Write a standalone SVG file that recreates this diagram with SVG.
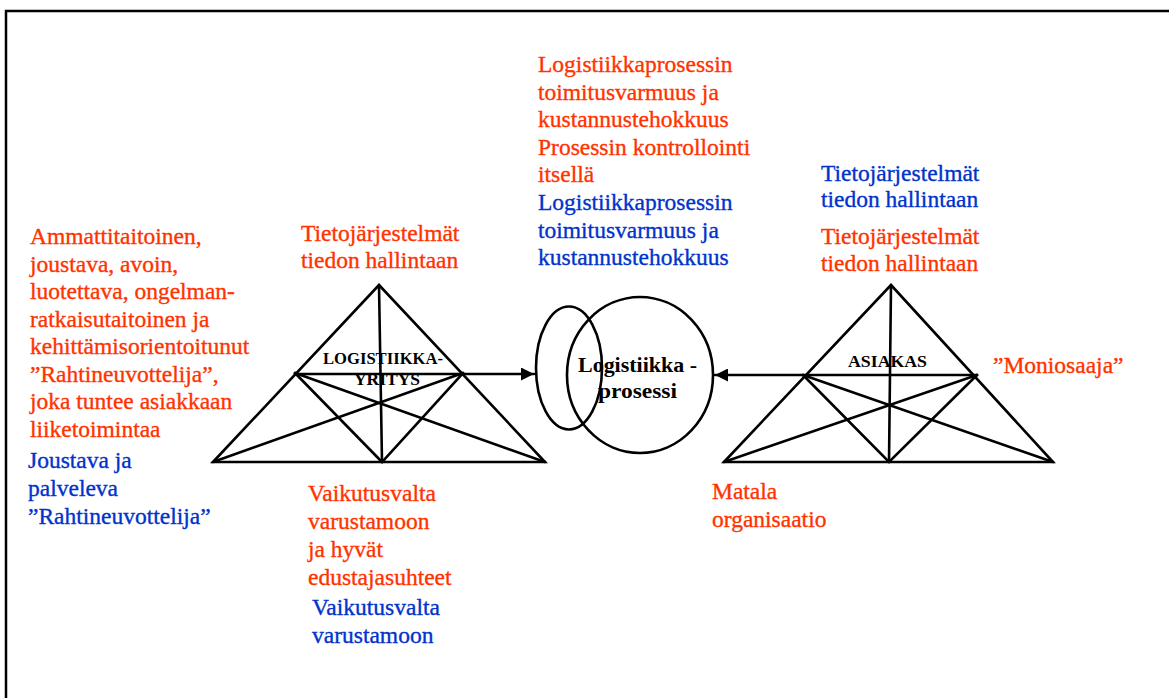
<svg xmlns="http://www.w3.org/2000/svg" width="1169" height="698" viewBox="0 0 1169 698">
  <style>
    text { font-family: "Liberation Serif", "Times New Roman", serif; }
    .t text { font-size: 23.5px; font-weight: normal; stroke-width: 0.35; }
    .red { fill: #FF3300; stroke: #FF3300; }
    .blue { fill: #0033CC; stroke: #0033CC; }
    .lbl { font-weight: bold; fill: #000; }
    .ln { stroke: #000; stroke-width: 2.6; fill: none; stroke-linecap: round; }
    .frame { stroke: #000; stroke-width: 2.5; fill: none; }
  </style>
  <defs>
    <marker id="arrow" viewBox="0 0 10 10" refX="10" refY="5" markerWidth="5" markerHeight="5" orient="auto" markerUnits="strokeWidth">
      <path d="M0,0 L10,5 L0,10 z" fill="#000"/>
    </marker>
  </defs>
  <rect width="1169" height="698" fill="#fff"/>
  <rect class="frame" x="6" y="11" width="1200" height="800"/>

  <!-- company pyramid -->
  <g id="logistiikkayritys">
    <path class="ln" d="M213,462 L379,285 L545,462 Z"/>
    <path class="ln" d="M379,285 L382,462"/>
    <path class="ln" d="M295,373 L382,462 L463,373"/>
    <path class="ln" d="M295,373 L545,462"/>
    <path class="ln" d="M463,373 L213,462"/>
    <text class="lbl" font-size="16.5" x="323" y="364" textLength="120" lengthAdjust="spacingAndGlyphs">LOGISTIIKKA-</text>
    <text class="lbl" font-size="16.5" x="354" y="385" textLength="66" lengthAdjust="spacingAndGlyphs">YRITYS</text>
  </g>

  <!-- customer pyramid -->
  <g id="asiakas">
    <path class="ln" d="M724,462 L891,285 L1053,462 Z"/>
    <path class="ln" d="M891,285 L889,462"/>
    <path class="ln" d="M803,375 L889,462 L977,375"/>
    <path class="ln" d="M803,375 L1053,462"/>
    <path class="ln" d="M977,375 L724,462"/>
    <text class="lbl" font-size="16.5" x="848" y="367" textLength="79" lengthAdjust="spacingAndGlyphs">ASIAKAS</text>
  </g>

  <!-- process circles -->
  <g id="logistiikkaprosessi">
    <ellipse class="ln" cx="569" cy="368" rx="33" ry="61.5"/>
    <ellipse class="ln" cx="640" cy="375" rx="73" ry="78"/>
    <text class="lbl" font-size="22" x="578" y="372" textLength="119" lengthAdjust="spacingAndGlyphs">Logistiikka -</text>
    <text class="lbl" font-size="22" x="598" y="398" textLength="79" lengthAdjust="spacingAndGlyphs">prosessi</text>
  </g>

  <!-- connectors -->
  <g id="connectors">
    <path class="ln" d="M295,374 L534,374" marker-end="url(#arrow)"/>
    <path class="ln" d="M977,375 L715,375" marker-end="url(#arrow)"/>
  </g>

  <!-- annotations -->
  <g id="left-text" class="t">
    <text class="red">
      <tspan x="30" y="244">Ammattitaitoinen,</tspan>
      <tspan x="30" y="271.5">joustava, avoin,</tspan>
      <tspan x="30" y="299">luotettava, ongelman-</tspan>
      <tspan x="30" y="326.5">ratkaisutaitoinen ja</tspan>
      <tspan x="30" y="354">kehittämisorientoitunut</tspan>
      <tspan x="30" y="381.5">”Rahtineuvottelija”,</tspan>
      <tspan x="30" y="409">joka tuntee asiakkaan</tspan>
      <tspan x="30" y="436.5">liiketoimintaa</tspan>
    </text>
    <text class="blue">
      <tspan x="28" y="468">Joustava ja</tspan>
      <tspan x="28" y="496">palveleva</tspan>
      <tspan x="28" y="524">”Rahtineuvottelija”</tspan>
    </text>
  </g>

  <g id="center-text" class="t">
    <text class="red">
      <tspan x="538" y="72">Logistiikkaprosessin</tspan>
      <tspan x="538" y="100">toimitusvarmuus ja</tspan>
      <tspan x="538" y="127">kustannustehokkuus</tspan>
      <tspan x="538" y="155">Prosessin kontrollointi</tspan>
      <tspan x="538" y="182">itsellä</tspan>
    </text>
    <text class="blue">
      <tspan x="538" y="210">Logistiikkaprosessin</tspan>
      <tspan x="538" y="238">toimitusvarmuus ja</tspan>
      <tspan x="538" y="265">kustannustehokkuus</tspan>
    </text>
  </g>

  <g id="left-top-text" class="t">
    <text class="red">
      <tspan x="301" y="241">Tietojärjestelmät</tspan>
      <tspan x="301" y="268">tiedon hallintaan</tspan>
    </text>
  </g>

  <g id="right-top-text" class="t">
    <text class="blue">
      <tspan x="821" y="181">Tietojärjestelmät</tspan>
      <tspan x="821" y="207">tiedon hallintaan</tspan>
    </text>
    <text class="red">
      <tspan x="821" y="244">Tietojärjestelmät</tspan>
      <tspan x="821" y="271">tiedon hallintaan</tspan>
    </text>
    <text class="red" x="993" y="373">”Moniosaaja”</text>
  </g>

  <g id="bottom-text" class="t">
    <text class="red">
      <tspan x="308" y="501">Vaikutusvalta</tspan>
      <tspan x="308" y="529">varustamoon</tspan>
      <tspan x="308" y="557">ja hyvät</tspan>
      <tspan x="308" y="585">edustajasuhteet</tspan>
    </text>
    <text class="blue">
      <tspan x="312" y="615">Vaikutusvalta</tspan>
      <tspan x="312" y="643">varustamoon</tspan>
    </text>
    <text class="red">
      <tspan x="712" y="499">Matala</tspan>
      <tspan x="712" y="527">organisaatio</tspan>
    </text>
  </g>
</svg>
